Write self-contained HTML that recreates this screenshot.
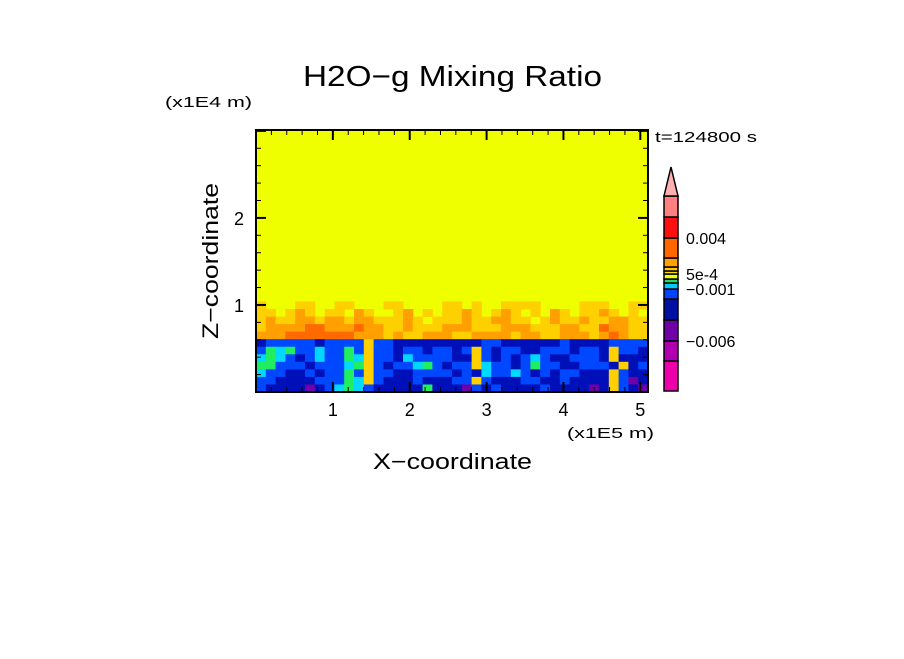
<!DOCTYPE html>
<html><head><meta charset="utf-8"><style>
html,body{margin:0;padding:0;background:#fff;}
svg text{font-family:"Liberation Sans",sans-serif;fill:#000;}
</style></head><body>
<svg id="chart" width="904" height="654" viewBox="0 0 904 654" xmlns="http://www.w3.org/2000/svg">
<text x="303" y="86" font-size="29" textLength="299" lengthAdjust="spacingAndGlyphs">H2O−g Mixing Ratio</text>
<text x="165" y="107" font-size="15" textLength="87" lengthAdjust="spacingAndGlyphs">(x1E4 m)</text>
<text x="655" y="142" font-size="15" textLength="102" lengthAdjust="spacingAndGlyphs">t=124800 s</text>
<text transform="translate(218,261) rotate(-90)" text-anchor="middle" font-size="22" textLength="156" lengthAdjust="spacingAndGlyphs">Z−coordinate</text>
<text x="373" y="469" font-size="22" textLength="159" lengthAdjust="spacingAndGlyphs">X−coordinate</text>
<text x="567" y="438" font-size="15" textLength="87" lengthAdjust="spacingAndGlyphs">(x1E5 m)</text>
<g id="field"></g>
<g id="axes"></g>
<g id="cbar"></g>
</svg>
<script>
const xTicks = [1, 2, 3, 4, 5];
const yTicks = [1, 2];
const xRange = [0, 5.1];
const yRange = [0, 3.01];
const fieldTop = 1.04;
// level codes per cell row (top to bottom), 40 columns each
const fieldRows = [
"oYYYooYYooYYYooYYYYooYoYYooooYYYYoooYYoo",
"ooYoOoYooYOoYYoOYoYooOoYoOoYoYOoYooOoYoY",
"oOooOOoOOoOOoooOoYoooOooOOooYoOooOooOOoo",
"oOOOORROOOROOooOoooOOOoooOOOoooOOooROOoo",
"OOORRRRRRROOOoOooOOOooOOOOoOOooOOOoOROoo",
"deeeeedeeeeoeedddddddddeeddddddeddddeeee",
"egfgeefeegeoeedeedeedeoedeeddeeedeedoeed",
"fgfedefeegfoeedfeeeeddoededefeddeeedoddd",
"ggeeedeeefgoedeefgedeeofeedegeeddeeedode",
"feeddedeegeoeeddeeeededfeefededeedddoedd",
"eeddddeeegfoedddedddeeoedddeeddeddddoecd",
"eddddcdefgfedddddgdddcededdddeddddcdoedc"
];
const codeColors = {Y:"#f0ff00",o:"#ffd000",O:"#ffa000",R:"#ff6a00",d:"#0010b8",e:"#0048ff",f:"#00d8ff",g:"#20ee60",c:"#7000a8"};
const cbarColors = ["#ee00aa","#b000b0","#7000a8","#0010a0","#0044ff","#00ccff","#20dd60","#f0ff00","#ffe000","#ffc800","#ffa000","#ff6600","#ff1010","#ff8080"];
const cbarLabels = ["0.004","5e-4","−0.001","−0.006"];
const cbarLabelIdx = [12, 8, 5, 2];

const NS="http://www.w3.org/2000/svg";
const L=256,R=648,T=130,B=392;
const sx=v=>L+(v-xRange[0])/(xRange[1]-xRange[0])*(R-L);
const sy=v=>B-(v-yRange[0])/(yRange[1]-yRange[0])*(B-T);
function mk(tag,attrs,parent){const e=document.createElementNS(NS,tag);for(const k in attrs)e.setAttribute(k,attrs[k]);parent.appendChild(e);return e;}
const field=document.getElementById('field');
const bg=mk('rect',{x:L,y:T,width:R-L,height:B-T,fill:codeColors.Y},field);


const nr=fieldRows.length;
fieldRows.forEach((row,ri)=>{
  const nc=40;
  const z1=fieldTop*(1-ri/nr), z0=fieldTop*(1-(ri+1)/nr);
  for(let ci=0;ci<nc;ci++){
    const ch=row[ci]||row[row.length-1];
    if(ch==='Y')continue;
    const x0=xRange[0]+(xRange[1]-xRange[0])*ci/nc, x1=xRange[0]+(xRange[1]-xRange[0])*(ci+1)/nc;
    const r=mk('rect',{x:sx(x0),y:sy(z1),width:sx(x1)-sx(x0)+0.5,height:sy(z0)-sy(z1)+0.5,fill:codeColors[ch]},field);
    
    
  }
});
const axes=document.getElementById('axes');
const fr=mk('rect',{x:L,y:T,width:R-L,height:B-T,fill:'none',stroke:'#000','stroke-width':2},axes);


for(let v=0.2;v<xRange[1];v+=0.2){
  const major=Math.abs(v-Math.round(v))<1e-6;const len=major?10:5;const x=sx(v);
  mk('line',{x1:x,x2:x,y1:B,y2:B-len,stroke:'#000','stroke-width':major?2:1},axes);
  mk('line',{x1:x,x2:x,y1:T,y2:T+len,stroke:'#000','stroke-width':major?2:1},axes);
}
for(let v=0.2;v<yRange[1];v+=0.2){
  const major=Math.abs(v-Math.round(v))<1e-6;const len=major?10:5;const y=sy(v);
  mk('line',{x1:L,x2:L+len,y1:y,y2:y,stroke:'#000','stroke-width':major?2:1},axes);
  mk('line',{x1:R,x2:R-len,y1:y,y2:y,stroke:'#000','stroke-width':major?2:1},axes);
}
xTicks.forEach(v=>{const t=mk('text',{x:sx(v),y:B+24,'text-anchor':'middle','font-size':18},axes);t.textContent=v;

});
yTicks.forEach(v=>{const t=mk('text',{x:244,y:sy(v)+7,'text-anchor':'end','font-size':18},axes);t.textContent=v;

});
// colorbar
const cb=document.getElementById('cbar');
const bounds=[391,361,341,320,299,289,283,279,274,271,267,258,238,217,196];
const cx=664,cw=14;
cbarColors.forEach((c,i)=>{
  const r=mk('rect',{x:cx,y:bounds[i+1],width:cw,height:bounds[i]-bounds[i+1],fill:c,stroke:'#000','stroke-width':1.5},cb);
  
  
});
const ar=mk('polygon',{points:`${cx},196 ${cx+cw},196 ${cx+cw/2},167`,fill:'#ffb0b0',stroke:'#000','stroke-width':1.5},cb);


cbarLabels.forEach((s,i)=>{
  const y=bounds[cbarLabelIdx[i]];
  const t=mk('text',{x:686,y:y+6,'font-size':16},cb);t.textContent=s;
  
  
});
</script>
</body></html>
